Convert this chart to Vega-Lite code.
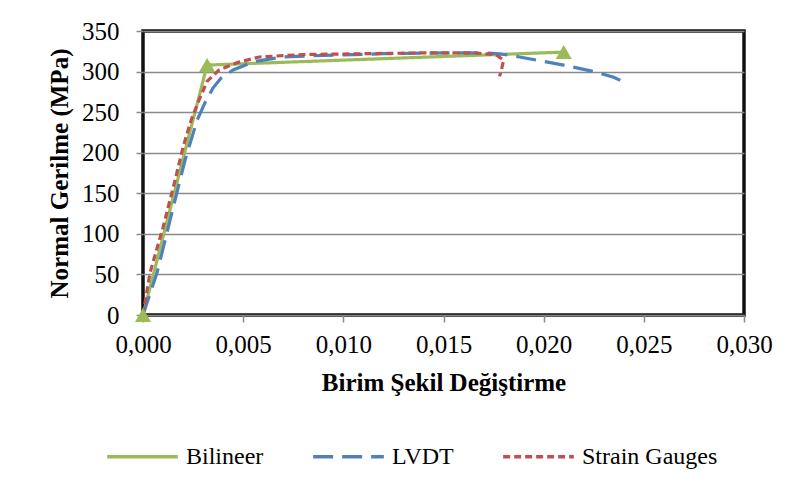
{
  "$schema": "https://vega.github.io/schema/vega-lite/v6.json",
  "width": 601,
  "height": 284,
  "autosize": {"type": "none"},
  "padding": {"left": 143, "top": 31, "right": 48, "bottom": 180},
  "background": "white",
  "config": {
    "font": "Liberation Serif",
    "view": {"stroke": "#111111", "strokeWidth": 3.5},
    "axis": {
      "labelFont": "Liberation Serif",
      "titleFont": "Liberation Serif",
      "labelColor": "black",
      "titleColor": "black",
      "labelFontSize": 25,
      "titleFontSize": 25,
      "titleFontWeight": "bold",
      "tickColor": "#8a8a8a",
      "tickSize": 7,
      "tickWidth": 1.5,
      "domain": false
    },
    "legend": {
      "labelFont": "Liberation Serif",
      "labelFontSize": 24,
      "labelColor": "black"
    }
  },
  "data": {
    "values": [
      {"series": "Bilineer", "o": 0, "x": 0, "y": 0},
      {"series": "Bilineer", "o": 1, "x": 0.0032, "y": 308},
      {"series": "Bilineer", "o": 2, "x": 0.021, "y": 324},
      {"series": "LVDT", "o": 0, "x": 0, "y": 0},
      {"series": "LVDT", "o": 1, "x": 0.0004, "y": 30},
      {"series": "LVDT", "o": 2, "x": 0.0007, "y": 52},
      {"series": "LVDT", "o": 3, "x": 0.00135, "y": 117},
      {"series": "LVDT", "o": 4, "x": 0.0021, "y": 191},
      {"series": "LVDT", "o": 5, "x": 0.0027, "y": 240},
      {"series": "LVDT", "o": 6, "x": 0.0031, "y": 262},
      {"series": "LVDT", "o": 7, "x": 0.0035, "y": 280},
      {"series": "LVDT", "o": 8, "x": 0.0039, "y": 292},
      {"series": "LVDT", "o": 9, "x": 0.0045, "y": 302},
      {"series": "LVDT", "o": 10, "x": 0.0055, "y": 312},
      {"series": "LVDT", "o": 11, "x": 0.007, "y": 318},
      {"series": "LVDT", "o": 12, "x": 0.009, "y": 320},
      {"series": "LVDT", "o": 13, "x": 0.012, "y": 322},
      {"series": "LVDT", "o": 14, "x": 0.015, "y": 323},
      {"series": "LVDT", "o": 15, "x": 0.017, "y": 323},
      {"series": "LVDT", "o": 16, "x": 0.0178, "y": 322},
      {"series": "LVDT", "o": 17, "x": 0.0188, "y": 318},
      {"series": "LVDT", "o": 18, "x": 0.021, "y": 308},
      {"series": "LVDT", "o": 19, "x": 0.0225, "y": 300},
      {"series": "LVDT", "o": 20, "x": 0.0235, "y": 293},
      {"series": "LVDT", "o": 21, "x": 0.024, "y": 287},
      {"series": "Strain Gauges", "o": 0, "x": 0, "y": 0},
      {"series": "Strain Gauges", "o": 1, "x": 0.0002, "y": 30},
      {"series": "Strain Gauges", "o": 2, "x": 0.00035, "y": 52},
      {"series": "Strain Gauges", "o": 3, "x": 0.001, "y": 108},
      {"series": "Strain Gauges", "o": 4, "x": 0.0016, "y": 166},
      {"series": "Strain Gauges", "o": 5, "x": 0.002, "y": 207},
      {"series": "Strain Gauges", "o": 6, "x": 0.0024, "y": 240},
      {"series": "Strain Gauges", "o": 7, "x": 0.0028, "y": 265},
      {"series": "Strain Gauges", "o": 8, "x": 0.0032, "y": 288},
      {"series": "Strain Gauges", "o": 9, "x": 0.0038, "y": 302},
      {"series": "Strain Gauges", "o": 10, "x": 0.0047, "y": 311},
      {"series": "Strain Gauges", "o": 11, "x": 0.0058, "y": 318},
      {"series": "Strain Gauges", "o": 12, "x": 0.008, "y": 321},
      {"series": "Strain Gauges", "o": 13, "x": 0.011, "y": 322},
      {"series": "Strain Gauges", "o": 14, "x": 0.014, "y": 323},
      {"series": "Strain Gauges", "o": 15, "x": 0.0165, "y": 323},
      {"series": "Strain Gauges", "o": 16, "x": 0.0176, "y": 321},
      {"series": "Strain Gauges", "o": 17, "x": 0.018, "y": 314},
      {"series": "Strain Gauges", "o": 18, "x": 0.0179, "y": 303},
      {"series": "Strain Gauges", "o": 19, "x": 0.0178, "y": 294}
    ]
  },
  "encoding": {
    "x": {
      "field": "x", "type": "quantitative",
      "scale": {"domain": [0, 0.03], "nice": false, "zero": false},
      "axis": {
        "title": "Birim Şekil Değiştirme",
        "values": [0, 0.005, 0.01, 0.015, 0.02, 0.025, 0.03],
        "labelExpr": "replace(format(datum.value, '.3f'), '.', ',')",
        "grid": false,
        "labelPadding": 10,
        "titlePadding": 13,
        "labelFlush": false
      }
    },
    "y": {
      "field": "y", "type": "quantitative",
      "scale": {"domain": [0, 350], "nice": false},
      "axis": {
        "title": "Normal Gerilme (MPa)",
        "values": [0, 50, 100, 150, 200, 250, 300, 350],
        "grid": true,
        "gridColor": "#8a8a8a",
        "gridWidth": 1.5,
        "labelPadding": 17,
        "titlePadding": 9,
        "labelFlush": false
      }
    }
  },
  "layer": [
    {
      "mark": {"type": "line", "strokeWidth": 3.2, "strokeCap": "butt"},
      "encoding": {
        "order": {"field": "o", "type": "quantitative"},
        "color": {
          "field": "series", "type": "nominal",
          "scale": {"domain": ["Bilineer", "LVDT", "Strain Gauges"], "range": ["#9BBB59", "#4F81BD", "#C0504D"]},
          "legend": {
            "title": null,
            "orient": "none",
            "direction": "horizontal",
            "legendX": -38,
            "legendY": 388,
            "symbolType": "stroke",
            "symbolSize": 5000,
            "symbolStrokeWidth": 3.5,
            "labelOffset": 6,
            "columnPadding": 42
          }
        },
        "strokeDash": {
          "field": "series", "type": "nominal",
          "scale": {"domain": ["Bilineer", "LVDT", "Strain Gauges"], "range": [[1, 0], [20, 9], [7, 4]]},
          "legend": {
            "title": null,
            "orient": "none",
            "direction": "horizontal",
            "legendX": -38,
            "legendY": 388,
            "symbolType": "stroke",
            "symbolSize": 5000,
            "symbolStrokeWidth": 3.5,
            "labelOffset": 6,
            "columnPadding": 42
          }
        }
      }
    },
    {
      "transform": [{"filter": "datum.series === 'Bilineer'"}],
      "mark": {"type": "point", "shape": "triangle-up", "filled": true, "size": 260, "opacity": 1, "color": "#9BBB59"}
    }
  ]
}
